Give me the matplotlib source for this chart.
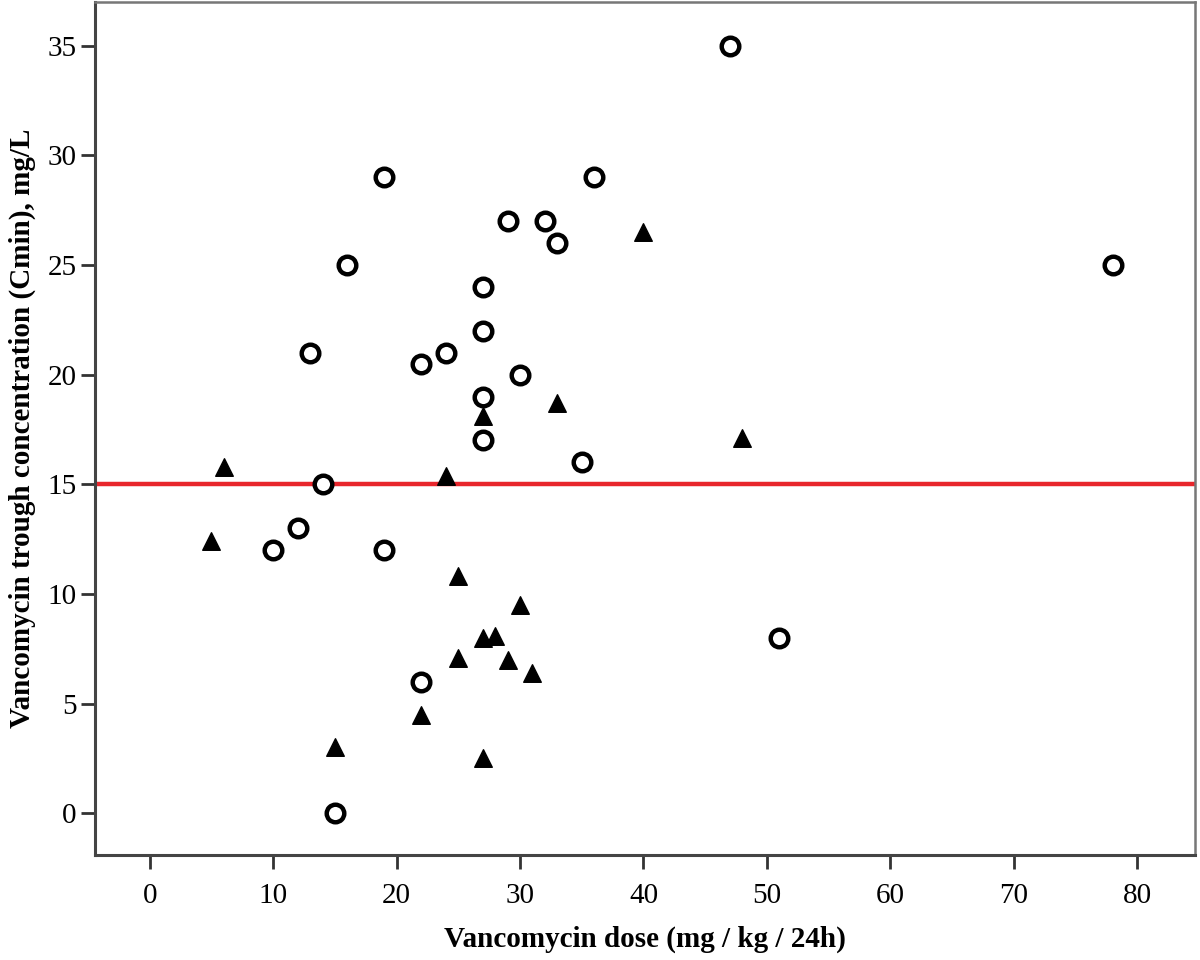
import matplotlib
matplotlib.use("Agg")
import matplotlib.pyplot as plt

circle_x = [47, 19, 36, 29, 32, 33, 16, 78, 27, 27, 13, 24, 22, 30, 27, 27, 35, 14, 12, 10, 19, 51, 22, 15]
circle_y = [35, 29, 29, 27, 27, 26, 25, 25, 24, 22, 21, 21, 20.5, 20, 19, 17, 16, 15, 13, 12, 12, 8, 6, 0]

tri_x = [40, 33, 27, 48, 6, 24, 5, 25, 30, 27, 28, 25, 29, 31, 22, 15, 27]
tri_y = [26.5, 18.7, 18.1, 17.1, 15.8, 15.4, 12.4, 10.8, 9.5, 8.0, 8.1, 7.1, 7.0, 6.4, 4.5, 3.0, 2.5]

threshold = 15
x_ticks = [0, 10, 20, 30, 40, 50, 60, 70, 80]
y_ticks = [0, 5, 10, 15, 20, 25, 30, 35]

plt.rcParams['font.family'] = ['Liberation Serif', 'DejaVu Serif']

fig = plt.figure(figsize=(12, 9.6), dpi=100)
ax = fig.add_axes([0.079, 0.109, 0.917, 0.889])

ax.axhline(threshold, color='#e8262c', lw=3.2, zorder=1)
ax.scatter(circle_x, circle_y, s=160, facecolors='white', edgecolors='black', linewidths=3.2, marker='o', zorder=3)
ax.scatter(tri_x, tri_y, s=160, color='black', marker='^', zorder=3)

ax.set_xlim(-4.45, 84.7)
ax.set_ylim(-1.92, 37.0)
ax.set_xticks(x_ticks)
ax.set_yticks(y_ticks)
ax.tick_params(axis='both', direction='out', length=10, width=2.0, color='#333333', labelsize=21, pad=3)
ax.tick_params(axis='x', pad=10)

for side in ['left', 'bottom']:
    ax.spines[side].set_color('#444444')
    ax.spines[side].set_linewidth(2.2)
for side in ['top', 'right']:
    ax.spines[side].set_color('#777777')
    ax.spines[side].set_linewidth(1.8)

ax.set_xlabel('Vancomycin dose (mg / kg / 24h)', fontsize=21, fontweight='bold', labelpad=12)
ax.set_ylabel('Vancomycin trough concentration (Cmin), mg/L', fontsize=21, fontweight='bold', labelpad=8)

fig.savefig('out.png', dpi=100, facecolor='white')
